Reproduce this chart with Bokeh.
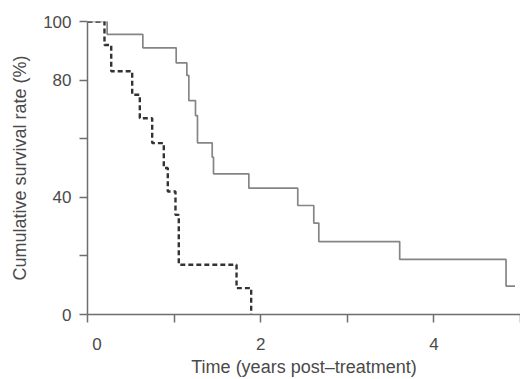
from bokeh.plotting import figure
from bokeh.embed import file_html
from bokeh.resources import INLINE
from bokeh.models import FixedTicker, Range1d

# Kaplan-Meier curves
# Solid group
solid_time = [0, 0.227, 0.639, 1.024, 1.147, 1.170, 1.247, 1.270, 1.440, 1.455,
              1.863, 2.428, 2.613, 2.671, 3.605, 4.833, 4.936]
solid_surv = [100, 95.6, 91.0, 85.9, 81.6, 73.0, 67.9, 58.6, 53.7, 48.0,
              43.1, 37.2, 31.2, 24.9, 18.8, 9.7, 9.7]
# Dashed group
dash_time = [0, 0.196, 0.274, 0.516, 0.604, 0.747, 0.881, 0.927, 1.016, 1.054,
             1.721, 1.890]
dash_surv = [100, 92.0, 83.0, 75.0, 67.0, 58.5, 50.0, 42.0, 34.0, 17.0,
             9.0, 0]

x_ticks = [0, 1, 2, 3, 4, 5]
# the "0" label sits a little right of the axis corner in the original
x_tick_labels = {0: "\u00a0\u00a0\u00a0\u00a00", 1: "", 2: "2", 3: "", 4: "4", 5: ""}
y_ticks = [0, 20, 40, 60, 80, 100]
y_tick_labels = {0: "0", 20: "", 40: "40", 60: "", 80: "80", 100: "100"}

FONT = "Liberation Sans"
TXT = "#4a4a4a"
AX = "#6e6e6e"

p = figure(width=520, height=379, output_backend="svg", toolbar_location=None,
           x_range=Range1d(0, 5), y_range=Range1d(0, 100),
           min_border_left=87, min_border_right=0, min_border_top=21,
           min_border_bottom=65)
p.outline_line_color = None
p.xgrid.visible = False
p.ygrid.visible = False
p.background_fill_color = "white"

p.step(solid_time, solid_surv, mode="after", line_color="#858585", line_width=1.7)
p.step(dash_time, dash_surv, mode="after", line_color="#333333", line_width=2.4,
       line_dash="5 3")

for ax in (p.xaxis[0], p.yaxis[0]):
    ax.axis_line_color = AX
    ax.axis_line_width = 1.5
    ax.major_tick_line_color = AX
    ax.major_tick_line_width = 1.5
    ax.major_tick_out = 8
    ax.major_tick_in = 0
    ax.minor_tick_line_color = None
    ax.major_label_text_font = FONT
    ax.major_label_text_font_size = "17px"
    ax.major_label_text_color = TXT
    ax.axis_label_text_font = FONT
    ax.axis_label_text_font_size = "18px"
    ax.axis_label_text_font_style = "normal"
    ax.axis_label_text_color = TXT

p.xaxis.ticker = FixedTicker(ticks=x_ticks)
p.xaxis.major_label_overrides = x_tick_labels
p.xaxis.major_label_standoff = 12
p.xaxis.axis_label = "Time (years post\u2013treatment)"
p.xaxis.axis_label_standoff = 0

p.yaxis.ticker = FixedTicker(ticks=y_ticks)
p.yaxis.major_label_overrides = y_tick_labels
p.yaxis.major_label_standoff = 8
p.yaxis.axis_label = "Cumulative survival rate (%)"
p.yaxis.axis_label_standoff = 10

open("out.html", "w").write(file_html(p, INLINE))
